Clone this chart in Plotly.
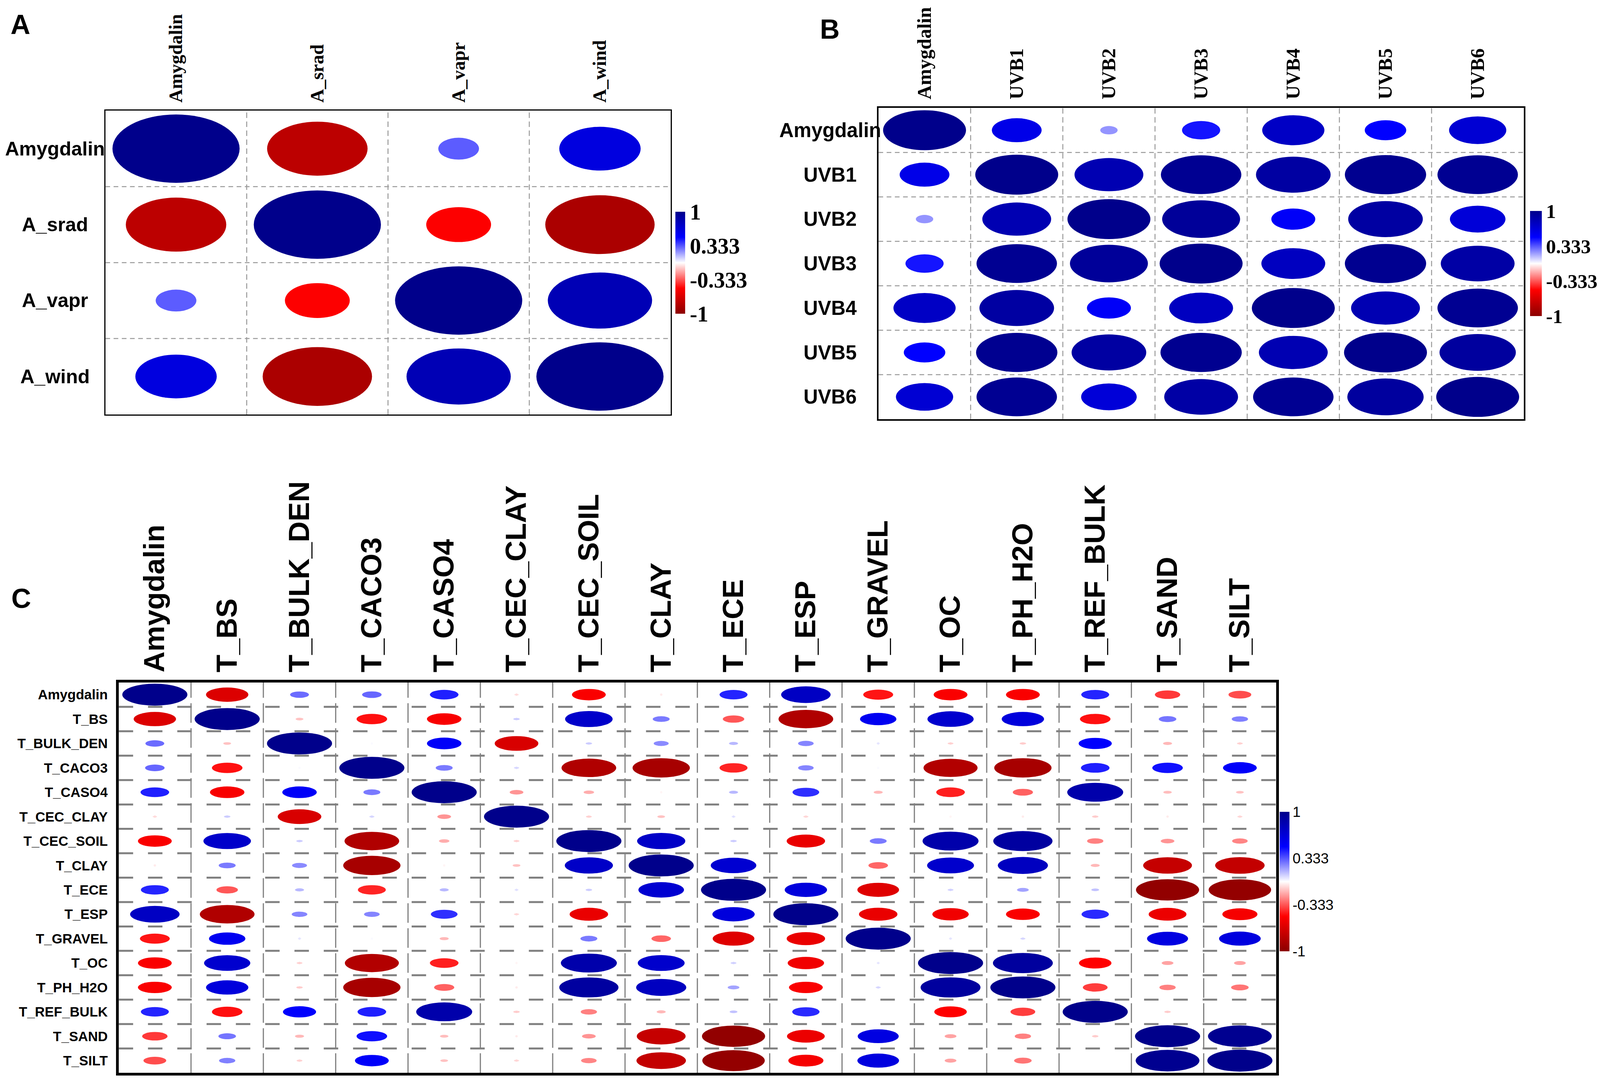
import plotly.graph_objects as go
from plotly.colors import sample_colorscale

# reference canvas size, used only to turn pixel positions into paper fractions
W, H = 4317, 2767

# ---------- data ----------
a_labels = ["Amygdalin", "A_srad", "A_vapr", "A_wind"]
a_corr = [
    [1.00, -0.79, 0.32, 0.64],
    [-0.79, 1.00, -0.51, -0.86],
    [0.32, -0.51, 1.00, 0.82],
    [0.64, -0.86, 0.82, 1.00],
]

b_labels = ["Amygdalin", "UVB1", "UVB2", "UVB3", "UVB4", "UVB5", "UVB6"]
b_corr = [
    [1.00, 0.60, 0.21, 0.46, 0.75, 0.50, 0.69],
    [0.60, 1.00, 0.83, 0.97, 0.90, 0.98, 0.97],
    [0.21, 0.83, 1.00, 0.94, 0.53, 0.90, 0.67],
    [0.46, 0.97, 0.94, 1.00, 0.77, 0.98, 0.89],
    [0.75, 0.90, 0.53, 0.77, 1.00, 0.83, 0.97],
    [0.50, 0.98, 0.90, 0.98, 0.83, 1.00, 0.92],
    [0.69, 0.97, 0.67, 0.89, 0.97, 0.92, 1.00],
]

c_labels = ["Amygdalin", "T_BS", "T_BULK_DEN", "T_CACO3", "T_CASO4", "T_CEC_CLAY",
            "T_CEC_SOIL", "T_CLAY", "T_ECE", "T_ESP", "T_GRAVEL", "T_OC",
            "T_PH_H2O", "T_REF_BULK", "T_SAND", "T_SILT"]
c_corr = [
    [1.00, -0.65, 0.29, 0.30, 0.44, -0.07, -0.52, -0.04, 0.43, 0.76, -0.46, -0.52, -0.52, 0.43, -0.39, -0.35],
    [-0.65, 1.00, -0.12, -0.47, -0.53, 0.10, 0.73, 0.26, -0.33, -0.84, 0.56, 0.71, 0.65, -0.47, 0.27, 0.25],
    [0.29, -0.12, 1.00, 0.01, 0.53, -0.67, 0.10, 0.23, 0.14, 0.24, 0.05, -0.09, -0.10, 0.51, -0.14, -0.09],
    [0.30, -0.47, 0.01, 1.00, 0.26, 0.08, -0.84, -0.88, -0.43, 0.24, 0.01, -0.83, -0.88, 0.44, 0.47, 0.52],
    [0.44, -0.53, 0.53, 0.26, 1.00, -0.21, -0.16, -0.02, 0.14, 0.41, -0.14, -0.44, -0.31, 0.86, -0.13, -0.12],
    [-0.07, 0.10, -0.67, 0.08, -0.21, 1.00, -0.09, -0.12, 0.06, -0.08, 0.00, -0.02, -0.04, -0.10, -0.04, -0.08],
    [-0.52, 0.73, 0.10, -0.84, -0.16, -0.09, 1.00, 0.74, 0.10, -0.59, 0.26, 0.86, 0.91, -0.25, -0.21, -0.24],
    [-0.04, 0.26, 0.23, -0.88, -0.02, -0.12, 0.74, 1.00, 0.70, 0.00, -0.30, 0.72, 0.77, -0.14, -0.75, -0.76],
    [0.43, -0.33, 0.14, -0.43, 0.14, 0.06, 0.10, 0.70, 1.00, 0.65, -0.64, 0.09, 0.18, 0.12, -0.97, -0.96],
    [0.76, -0.84, 0.24, 0.24, 0.41, -0.08, -0.59, 0.00, 0.65, 1.00, -0.59, -0.56, -0.52, 0.42, -0.58, -0.54],
    [-0.46, 0.56, 0.05, 0.01, -0.14, 0.00, 0.26, -0.30, -0.64, -0.59, 1.00, 0.05, 0.08, 0.00, 0.63, 0.64],
    [-0.52, 0.71, -0.09, -0.83, -0.44, -0.02, 0.86, 0.72, 0.09, -0.56, 0.05, 1.00, 0.92, -0.50, -0.18, -0.18],
    [-0.52, 0.65, -0.10, -0.88, -0.31, -0.04, 0.91, 0.77, 0.18, -0.52, 0.08, 0.92, 1.00, -0.38, -0.25, -0.27],
    [0.43, -0.47, 0.51, 0.44, 0.86, -0.10, -0.25, -0.14, 0.12, 0.42, 0.00, -0.50, -0.38, 1.00, -0.10, 0.00],
    [-0.39, 0.27, -0.14, 0.47, -0.13, -0.04, -0.21, -0.75, -0.97, -0.58, 0.63, -0.18, -0.25, -0.10, 1.00, 0.98],
    [-0.35, 0.25, -0.09, 0.52, -0.12, -0.08, -0.24, -0.76, -0.96, -0.54, 0.64, -0.18, -0.27, 0.00, 0.98, 1.00],
]

cbar_tickvals = [1, 0.333, -0.333, -1]
cbar_ticktext = ["1", "0.333", "-0.333", "-1"]

CORR_SCALE = [[0.0, "#8B0000"], [0.25, "#FF0000"], [0.5, "#FFFFFF"],
              [0.75, "#0000FF"], [1.0, "#00008B"]]

SERIF = "Liberation Serif, Times New Roman, serif"
SANS = "Liberation Sans, Arial, sans-serif"


def fx(p):
    return p / W


def fy(p):
    return 1 - p / H


# pixel boxes (left, top, right, bottom) and styling per panel
panels = [
    dict(s="", labels=a_labels, corr=a_corr, box=(277, 277, 1808, 1059), border=3,
         col_font=dict(family=SERIF, size=48, color="black", weight="bold"), col_standoff=8,
         row_mode="center", row_x=141, row_font=dict(family=SANS, size=50, color="black", weight="bold"),
         hgrid=dict(color="#9a9a9a", width=2.5, dash="12px,9px"),
         vgrid=dict(color="#9a9a9a", width=2.5, dash="14px,9px"),
         cbar=dict(x=1821, top=537, bottom=800, thick=25,
                   font=dict(family=SERIF, size=57, color="black", weight="bold"))),
    dict(s="2", labels=b_labels, corr=b_corr, box=(2371, 270, 4119, 1071), border=4,
         col_font=dict(family=SERIF, size=50, color="black", weight="bold"), col_standoff=8,
         row_mode="center", row_x=2240, row_font=dict(family=SANS, size=51, color="black", weight="bold"),
         hgrid=dict(color="#9a9a9a", width=2.5, dash="12px,9px"),
         vgrid=dict(color="#9a9a9a", width=2.5, dash="14px,9px"),
         cbar=dict(x=4136, top=535, bottom=806, thick=30,
                   font=dict(family=SERIF, size=51, color="black", weight="bold"))),
    dict(s="3", labels=c_labels, corr=c_corr, box=(313, 1749, 3448, 2754), border=7,
         col_font=dict(family=SANS, size=74, color="black", weight="bold"), col_standoff=4,
         row_mode="ticks", row_font=dict(family=SANS, size=35, color="black", weight="bold"),
         hgrid=dict(color="#808080", width=5, dash="37px,38px"),
         vgrid=dict(color="#808080", width=3, dash="50px,14px"),
         cbar=dict(x=3458, top=2082, bottom=2441, thick=25,
                   font=dict(family=SANS, size=37, color="black"))),
]

fig = go.Figure()
shapes = []
annotations = []
layout_axes = {}

for p in panels:
    s = p["s"]
    labels = p["labels"]
    corr = p["corr"]
    n = len(labels)
    left, top, right, bottom = p["box"]
    xr, yr = "x" + s, "y" + s

    layout_axes["xaxis" + s] = dict(
        domain=[fx(left), fx(right)], range=[-0.5, n - 0.5], anchor=yr, side="top",
        tickmode="array", tickvals=list(range(n)), ticktext=labels, tickangle=-90,
        tickfont=p["col_font"], ticks="", ticklabelstandoff=p["col_standoff"],
        showgrid=False, zeroline=False, showline=True, mirror=True,
        linecolor="black", linewidth=p["border"], fixedrange=True,
    )
    yax = dict(
        domain=[fy(bottom), fy(top)], range=[n - 0.5, -0.5], anchor=xr,
        showgrid=False, zeroline=False, showline=True, mirror=True,
        linecolor="black", linewidth=p["border"], fixedrange=True, ticks="",
    )
    if p["row_mode"] == "ticks":
        yax.update(tickmode="array", tickvals=list(range(n)), ticktext=labels,
                   tickfont=p["row_font"], ticklabelstandoff=14)
    else:
        yax.update(showticklabels=False)
        for i, lab in enumerate(labels):
            annotations.append(dict(
                x=fx(p["row_x"]), xref="paper", y=i, yref=yr, text=lab, showarrow=False,
                xanchor="center", yanchor="middle", font=p["row_font"]))
    layout_axes["yaxis" + s] = yax

    # ellipses: size proportional to |r|, colour from the scale
    for i in range(n):
        for j in range(n):
            r = corr[i][j]
            half = 0.45 * abs(r)
            if half <= 0:
                continue
            col = sample_colorscale(CORR_SCALE, [(r + 1) / 2])[0]
            shapes.append(dict(
                type="circle", xref=xr, yref=yr, x0=j - half, x1=j + half,
                y0=i - half, y1=i + half, fillcolor=col, line=dict(width=0), layer="above"))

    # dashed cell grid
    for k in range(n - 1):
        shapes.append(dict(type="line", xref=xr, yref=yr + " domain", x0=k + 0.5, x1=k + 0.5,
                           y0=0, y1=1, line=p["vgrid"], layer="above"))
        shapes.append(dict(type="line", xref=xr + " domain", yref=yr, x0=0, x1=1,
                           y0=k + 0.5, y1=k + 0.5, line=p["hgrid"], layer="above"))

    cb = p["cbar"]
    flat_x = [j for i in range(n) for j in range(n)]
    flat_y = [i for i in range(n) for j in range(n)]
    flat_r = [corr[i][j] for i in range(n) for j in range(n)]
    fig.add_trace(go.Scatter(
        x=flat_x, y=flat_y, xaxis=xr, yaxis=yr, mode="markers", hoverinfo="skip",
        showlegend=False,
        marker=dict(
            size=0, color=flat_r, colorscale=CORR_SCALE, cmin=-1, cmax=1, showscale=True,
            colorbar=dict(
                x=fx(cb["x"]), xanchor="left", y=fy((cb["top"] + cb["bottom"]) / 2),
                yanchor="middle", len=(cb["bottom"] - cb["top"]) / H, lenmode="fraction",
                thickness=cb["thick"], thicknessmode="pixels", xpad=0, ypad=0,
                outlinewidth=0, ticks="", tickmode="array", tickvals=cbar_tickvals,
                ticktext=cbar_ticktext, tickfont=cb["font"],
            ),
        ),
    ))

# panel letters
for letter, px, py in [("A", 18, 14), ("B", 2210, 26), ("C", 20, 1492)]:
    annotations.append(dict(
        x=fx(px), y=fy(py), xref="paper", yref="paper", text=letter, showarrow=False,
        xanchor="left", yanchor="top", font=dict(family=SANS, size=70, color="black", weight="bold")))

# no fixed width/height: the figure fills the browser window
fig.update_layout(
    autosize=True, margin=dict(l=0, r=0, t=0, b=0),
    paper_bgcolor="white", plot_bgcolor="white",
    shapes=shapes, annotations=annotations, **layout_axes,
)

fig.write_html("out.html")
